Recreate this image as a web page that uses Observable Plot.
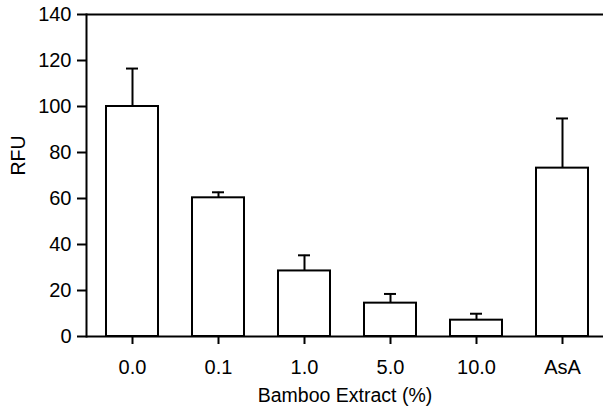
<!DOCTYPE html>
<html>
<head>
<meta charset="utf-8">
<script src="https://cdn.jsdelivr.net/npm/d3@7"></script>
<script src="https://cdn.jsdelivr.net/npm/@observablehq/plot@0.6"></script>
<style>
  html, body { margin: 0; padding: 0; background: #fff; }
  svg { display: block; }
</style>
</head>
<body>
<div id="chart"></div>
<script>
const categories = ["0.0", "0.1", "1.0", "5.0", "10.0", "AsA"];
const means = [100, 60.3, 28.5, 14.5, 7.1, 73.2];
const errors = [16.5, 2.4, 6.8, 4.0, 2.8, 21.6];
const yTicks = [0, 20, 40, 60, 80, 100, 120, 140];
const xTitle = "Bamboo Extract (%)";
const yTitle = "RFU";

const data = categories.map((c, i) => ({cat: c, mean: means[i], top: means[i] + errors[i]}));
const font = "Arial, 'Liberation Sans', sans-serif";

const chart = Plot.plot({
  width: 603,
  height: 413,
  marginLeft: 86,
  marginRight: 0,
  marginTop: 14,
  marginBottom: 77,
  style: {fontFamily: font, color: "#000", background: "#fff"},
  x: {domain: categories, range: [86.5, 606.5], paddingInner: 0.4, paddingOuter: 0.2, label: null},
  y: {domain: [0, 140], label: null},
  marks: [
    Plot.ruleX(data, {x: "cat", y1: "mean", y2: "top", stroke: "#000", strokeWidth: 2}),
    Plot.tickY(data, {x: "cat", y: "top", stroke: "#000", strokeWidth: 2, insetLeft: 20, insetRight: 20}),
    Plot.barY(data, {x: "cat", y: "mean", fill: "#fff", stroke: "#000", strokeWidth: 2}),
    Plot.ruleY([0, 140], {stroke: "#000", strokeWidth: 2}),
    Plot.frame({anchor: "left", stroke: "#000", strokeWidth: 2}),
    Plot.axisY({ticks: yTicks, tickSize: 9, tickPadding: 6, fontSize: 20, label: null, stroke: "#000", strokeWidth: 2}),
    Plot.axisX({tickSize: 8, tickPadding: 15, fontSize: 20, label: null, stroke: "#000", strokeWidth: 2}),
    Plot.text([xTitle], {frameAnchor: "bottom", dy: 65, fontSize: 19.5, fill: "#000"}),
    Plot.text([yTitle], {frameAnchor: "left", dx: -68, rotate: -90, fontSize: 19.5, fill: "#000"})
  ]
});
document.getElementById("chart").appendChild(chart);
</script>
</body>
</html>
